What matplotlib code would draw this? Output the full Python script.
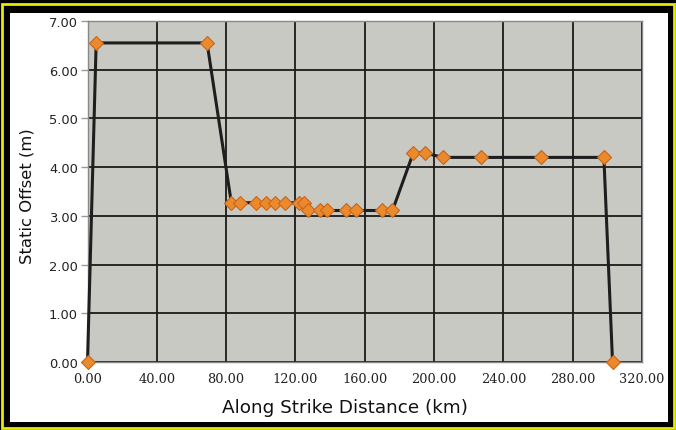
import matplotlib
matplotlib.use("Agg")
import matplotlib.pyplot as plt
from matplotlib.patches import Rectangle

distance_km = [0, 5, 69, 83, 88, 97, 103, 108, 114, 122, 125, 127, 134, 138,
               149, 155, 170, 176, 188, 195, 205, 227, 262, 298, 303]
offset_m = [0, 6.55, 6.55, 3.27, 3.27, 3.27, 3.27, 3.27, 3.27, 3.27, 3.26,
            3.11, 3.11, 3.11, 3.11, 3.11, 3.11, 3.11, 4.29, 4.29, 4.20, 4.20,
            4.20, 4.20, 0]
x_ticks = [0, 40, 80, 120, 160, 200, 240, 280, 320]
y_ticks = [0, 1, 2, 3, 4, 5, 6, 7]

W, H = 676, 431
fig = plt.figure(figsize=(W / 100, H / 100), dpi=100)
fig.patch.set_facecolor("black")

# yellow outer border and white inner panel
fig.add_artist(Rectangle((2 / W, 2 / H), (W - 4) / W, (H - 7) / H, transform=fig.transFigure,
                         fill=False, edgecolor="#e8e800", linewidth=2))
fig.add_artist(Rectangle((10 / W, 8 / H), (668 - 10) / W, (423 - 14) / H, transform=fig.transFigure,
                         facecolor="white", edgecolor="none", zorder=0))

left, right, top, bottom = 87.5, 642, 22, 363
ax = fig.add_axes([left / W, 1 - bottom / H, (right - left) / W, (bottom - top) / H])
ax.set_facecolor("#c9c9c4")
ax.set_xlim(0, 320)
ax.set_ylim(0, 7)
ax.set_xticks(x_ticks)
ax.set_yticks(y_ticks)
ax.set_xticklabels([f"{v:.2f}" for v in x_ticks], family="DejaVu Serif", fontsize=9.3, color="#222222")
ax.set_yticklabels([f"{v:.2f}" for v in y_ticks], family="DejaVu Sans", fontsize=9.4, color="#222222")
ax.tick_params(axis="x", length=0, pad=7)
ax.tick_params(axis="y", length=5, width=1, color="#999999", pad=2)
ax.grid(True, color="#1a1a1a", linewidth=1.3)
ax.set_axisbelow(True)
for s in ax.spines.values():
    s.set_color("#888888")
    s.set_linewidth(1)

ax.plot(distance_km, offset_m, color="#1e1e1e", linewidth=2.2, zorder=3,
        marker="D", markersize=7, markerfacecolor="#ea8a2c",
        markeredgecolor="#c8661a", markeredgewidth=0.8, clip_on=False)

fig.text(345 / W, 18 / H, "Along Strike Distance (km)", fontsize=13.2,
         ha="center", va="baseline", color="#111111")
fig.text(27 / W, 1 - 196 / H, "Static Offset (m)", fontsize=11.8, rotation=90,
         ha="center", va="center", color="#111111")

fig.savefig("out.png", dpi=100, facecolor=fig.get_facecolor())
